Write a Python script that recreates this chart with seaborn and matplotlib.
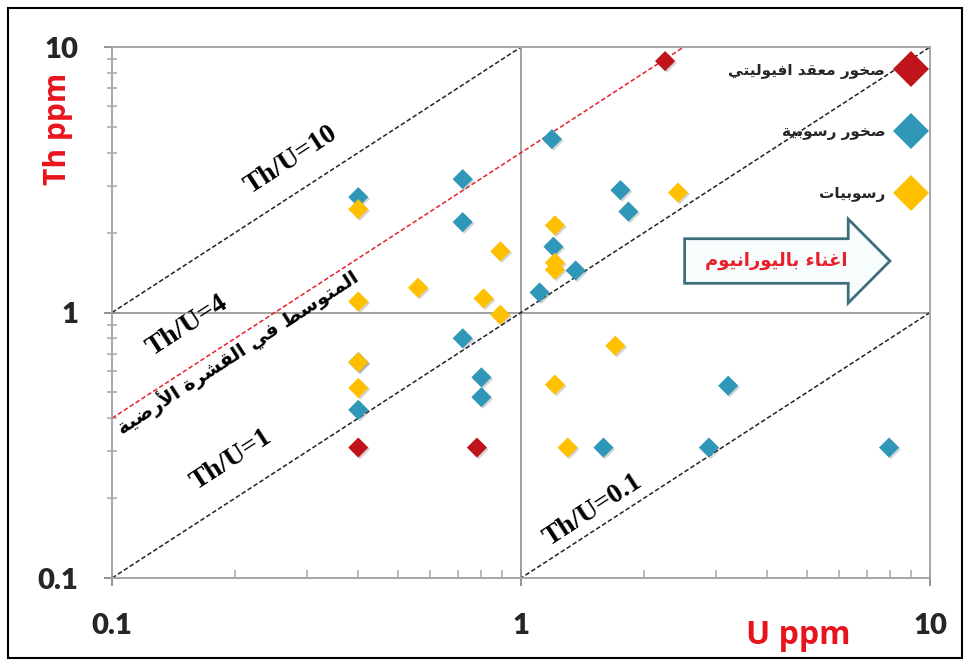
import numpy as np
import pandas as pd
import seaborn as sns
import matplotlib.pyplot as plt
import matplotlib.patches as mpatches
import matplotlib.patheffects as pe
from matplotlib.lines import Line2D
from matplotlib.ticker import NullFormatter

# groups of samples (legend names in Arabic) and their colours
group_names = ["صخور معقد افيوليتي", "صخور رسوبية", "رسوبيات"]
group_colors = ["#C0141C", "#2F97B8", "#FFC000"]

# ophiolite complex rocks
ophi_u = [2.25, 0.40, 0.78]
ophi_th = [8.85, 0.31, 0.31]

# sedimentary rocks
sedrock_u = [1.19, 0.72, 0.40, 0.72, 1.75, 1.83, 1.20, 1.36, 1.11,
             0.72, 0.40, 0.80, 0.80, 0.40, 1.59, 3.21, 2.88, 7.94]
sedrock_th = [4.50, 3.18, 2.72, 2.19, 2.89, 2.40, 1.77, 1.44, 1.19,
              0.80, 0.65, 0.57, 0.48, 0.43, 0.31, 0.53, 0.31, 0.31]

# sediments
sed_u = [0.40, 2.42, 1.21, 0.89, 1.21, 1.21, 0.56, 0.40, 0.81,
         0.89, 0.40, 0.40, 1.70, 1.21, 1.30]
sed_th = [2.45, 2.83, 2.13, 1.70, 1.54, 1.45, 1.24, 1.10, 1.13,
          0.98, 0.65, 0.52, 0.75, 0.535, 0.31]

# reference Th/U ratio lines
ratios = [10, 4, 1, 0.1]
ratio_labels = ["Th/U=10", "Th/U=4", "Th/U=1", "Th/U=0.1"]
ratio_colors = ["#222222", "#E8202A", "#222222", "#222222"]

crust_label = "المتوسط في القشرة الأرضية"
arrow_label = "اغناء باليورانيوم"

tick_values = [0.1, 1, 10]
tick_labels = ["0.1", "1", "10"]


# matplotlib has no Arabic shaping, so pick presentation forms by hand
_letters = "ءآأؤإئابةتثجحخدذرزسشصضطظعغفقكلمنهوىي"
_nforms = [1, 2, 2, 2, 2, 4, 2, 4, 2, 4, 4, 4, 4, 4, 2, 2, 2, 2, 4, 4,
           4, 4, 4, 4, 4, 4, 4, 4, 4, 4, 4, 4, 4, 2, 2, 4]
FORMS = {}
_code = 0xFE80
for ch, n in zip(_letters, _nforms):
    FORMS[ch] = (_code, n)
    _code += n
LAM_ALEF = {"آ": 0xFEF5, "أ": 0xFEF7, "إ": 0xFEF9, "ا": 0xFEFB}


def shape_arabic(text):
    out = []
    prev_joins = False
    i = 0
    while i < len(text):
        ch = text[i]
        if ch not in FORMS:
            out.append(ch)
            prev_joins = False
            i += 1
            continue
        nxt = text[i + 1] if i + 1 < len(text) else ""
        if ch == "ل" and nxt in LAM_ALEF:
            out.append(chr(LAM_ALEF[nxt] + (1 if prev_joins else 0)))
            prev_joins = False
            i += 2
            continue
        base, n = FORMS[ch]
        next_joins = n == 4 and nxt in FORMS
        if n == 1:
            form = 0
        elif prev_joins and next_joins:
            form = 3
        elif prev_joins:
            form = 1
        elif next_joins:
            form = 2
        else:
            form = 0
        out.append(chr(base + form))
        prev_joins = n == 4
        i += 1
    return "".join(reversed(out))


names = [shape_arabic(n) for n in group_names]

df = pd.concat([
    pd.DataFrame({"U": sedrock_u, "Th": sedrock_th, "group": names[1]}),
    pd.DataFrame({"U": sed_u, "Th": sed_th, "group": names[2]}),
    pd.DataFrame({"U": ophi_u, "Th": ophi_th, "group": names[0]}),
], ignore_index=True)
palette = dict(zip(names, group_colors))

sns.set_style("white")
fig = plt.figure(figsize=(9.7, 6.66), dpi=100)
ax = fig.add_axes([0.1155, 0.1321, 0.8433, 0.7973])
ax.set_xscale("log")
ax.set_yscale("log")
ax.set_xlim(0.1, 10)
ax.set_ylim(0.1, 10)

# grid lines through 1 ppm
ax.axvline(1, color="#9a9a9a", lw=1.3, zorder=1)
ax.axhline(1, color="#9a9a9a", lw=1.3, zorder=1)

# Th/U reference lines
u_line = np.array([0.1, 10])
for r, c in zip(ratios, ratio_colors):
    ax.plot(u_line, r * u_line, color=c, lw=1.1,
            linestyle=(0, (3, 1.6)), zorder=2)

sns.scatterplot(data=df, x="U", y="Th", hue="group", palette=palette,
                marker="D", s=105, linewidth=0, legend=False, ax=ax, zorder=3)
ax.collections[-1].set_path_effects([
    pe.SimplePatchShadow(offset=(1.2, -1.2), alpha=0.25, shadow_rgbFace="#555555"),
    pe.Normal()])

# labels along the ratio lines
label_pos = [(0.274, 3.75), (0.153, 0.89), (0.196, 0.28), (1.5, 0.18)]
for (x, y), t in zip(label_pos, ratio_labels):
    ax.text(x, y, t, rotation=33, rotation_mode="anchor", ha="center",
            va="center", fontsize=20, fontweight="bold",
            family="Liberation Serif", color="black", zorder=4)
ax.text(0.203, 0.71, shape_arabic(crust_label), rotation=33,
        rotation_mode="anchor", ha="center", va="center", fontsize=14,
        fontweight="bold", family=["DejaVu Sans"], color="black", zorder=4)

# uranium enrichment arrow
arrow = mpatches.FancyArrow(0.70, 0.597, 0.251, 0, width=0.084,
                            head_width=0.158, head_length=0.051,
                            length_includes_head=True, transform=ax.transAxes,
                            facecolor="#f7fcfd", edgecolor="#3d6f7d",
                            lw=2, zorder=4)
ax.add_patch(arrow)
ax.text(0.812, 0.597, shape_arabic(arrow_label), transform=ax.transAxes,
        ha="center", va="center", fontsize=13, fontweight="bold",
        family=["DejaVu Sans"], color="#E8202A", zorder=5)

# legend on the right, markers after the labels
handles = [Line2D([], [], marker="D", linestyle="", markersize=18,
                  markerfacecolor=c, markeredgewidth=0) for c in group_colors]
ax.legend(handles, names, loc="upper right", bbox_to_anchor=(1.005, 0.985),
          frameon=False, markerfirst=False, labelspacing=3.0,
          handletextpad=0.7, borderaxespad=0.1,
          prop=dict(family="DejaVu Sans", weight="bold", size=11))

# axes styling
for s in ax.spines.values():
    s.set_color("#a6a6a6")
    s.set_linewidth(1.4)
ax.set_xticks(tick_values, tick_labels)
ax.set_yticks(tick_values, tick_labels)
ax.xaxis.set_minor_formatter(NullFormatter())
ax.yaxis.set_minor_formatter(NullFormatter())
ax.tick_params(which="both", bottom=True, left=True)
ax.tick_params(which="major", direction="inout", length=12, width=1.3,
               color="#8a8a8a")
ax.tick_params(which="minor", direction="inout", length=7, width=1.1,
               color="#a6a6a6")
ax.tick_params(axis="x", which="minor", direction="in", length=6)
ax.tick_params(axis="x", which="major", pad=19)
ax.tick_params(axis="y", which="major", pad=18)
for lab in ax.get_xticklabels() + ax.get_yticklabels():
    lab.set_fontfamily("Lato")
    lab.set_fontweight("heavy")
    lab.set_fontsize(21)

ax.set_xlabel("U ppm", color="#E8141C", fontsize=23, fontweight="bold",
              family="Open Sans")
ax.set_ylabel("Th ppm", color="#E8141C", fontsize=21.5, fontweight="bold",
              family="Open Sans")
ax.xaxis.label.set_va("center")
ax.yaxis.label.set_va("center")
ax.xaxis.set_label_coords(0.839, -0.108)
ax.yaxis.set_label_coords(-0.066, 0.846)

# black frame around the whole picture
fig.patches.append(mpatches.Rectangle((8 / 970, 8 / 666), 954 / 970, 650 / 666,
                                      transform=fig.transFigure, fill=False,
                                      edgecolor="black", lw=1.5))

fig.savefig("out.png", dpi=100)
